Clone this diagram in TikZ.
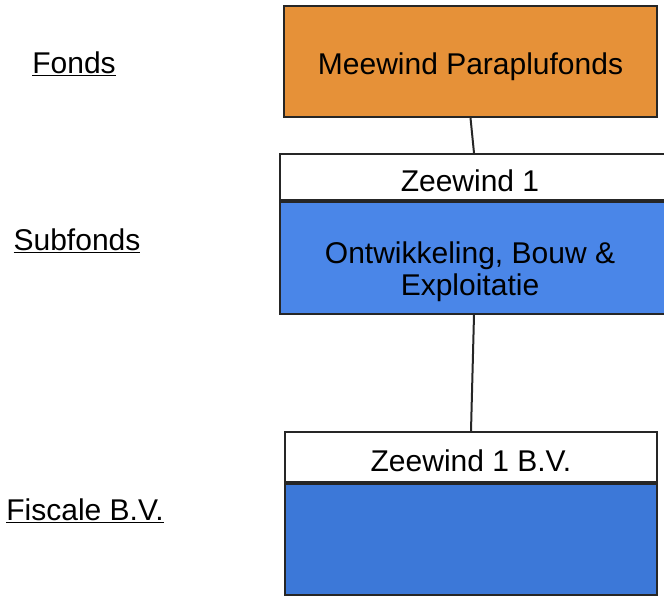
\documentclass[tikz,border=0pt]{standalone}
\usepackage{fontspec}
\setmainfont{Liberation Sans}
\usepackage{tikz}
\usetikzlibrary{positioning}
\definecolor{fondsorange}{HTML}{E69138}
\definecolor{subblue}{HTML}{4A86E8}
\definecolor{bvblue}{HTML}{3C78D8}
\definecolor{edgegrey}{HTML}{262626}
\tikzstyle{header} = [rectangle, fill=white, draw=edgegrey, line width=2pt, inner sep=0pt, text centered]
\tikzstyle{body} = [rectangle, draw=edgegrey, line width=2pt, inner sep=0pt]
\tikzstyle{level} = [inner sep=0pt]
\tikzstyle{link} = [draw=edgegrey, line width=2pt]

\begin{document}
\begin{tikzpicture}[x=1pt, y=-1pt, font=\fontsize{30}{32}\selectfont, align=center]
  \useasboundingbox (0,0) rectangle (664,595);
  % niveaus links
  \node (lfonds) [level] at (74,64) {\underline{Fonds}};
  \node (lsub) [level] at (77,241) {\underline{Subfonds}};
  \node (lbv) [level] at (85,511) {\underline{Fiscale B.V.}};

  % vakken
  \node (fonds) [body, fill=fondsorange, minimum width=373pt, minimum height=111pt,
    label={[yshift=-5pt]center:Meewind Paraplufonds}] at (470.5,61.5) {};
  \node (zw1head) [header, minimum width=392pt, minimum height=46pt] at (476,177) {};
  \node (zw1name) at (470,181) {Zeewind 1};
  \node (zw1body) [body, fill=subblue, minimum width=392pt, minimum height=112pt, below=0pt of zw1head] {};
  \node (zw1text) at (470,272) {Ontwikkeling, Bouw \&\\Exploitatie};
  \node (zw2head) [header, minimum width=372pt, minimum height=50pt,
    label={[yshift=-4pt]center:Zeewind 1 B.V.}] at (471,457) {};
  \node (zw2body) [body, fill=bvblue, minimum width=372pt, minimum height=111pt, below=0pt of zw2head] {};

  % verbindingen
  \draw [link] (fonds.south) -- ([xshift=-2pt]zw1head.north);
  \draw [link] ([xshift=-2pt]zw1body.south) -- (zw2head.north);
\end{tikzpicture}
\end{document}
